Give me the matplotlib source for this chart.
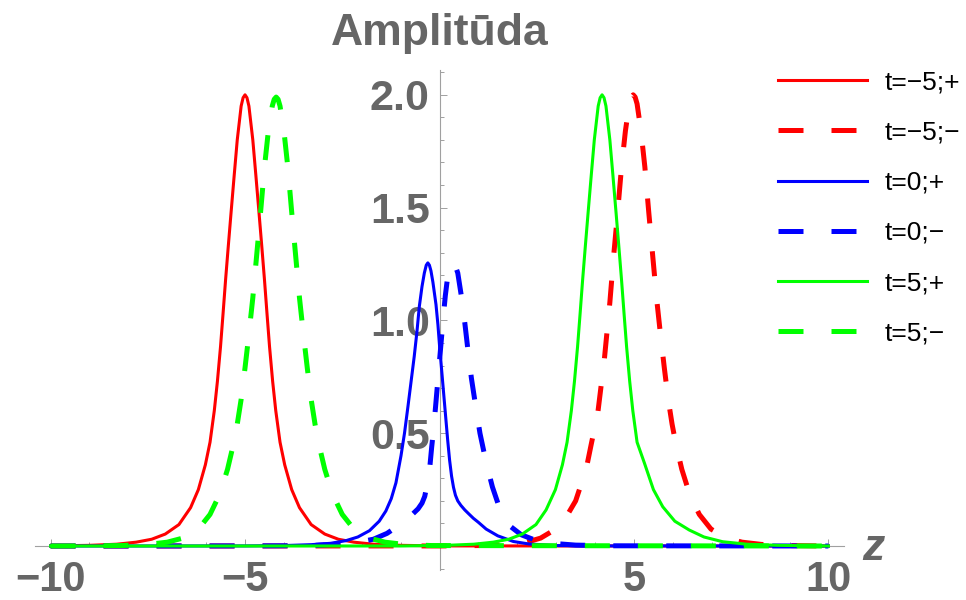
import matplotlib
matplotlib.use('Agg')
import matplotlib.pyplot as plt
from matplotlib.ticker import MultipleLocator

plt.rcParams['font.family'] = ['Liberation Sans', 'DejaVu Sans']

# values
z_red_p = [-10, -9.0, -8.3, -7.8, -7.4, -7.05, -6.7, -6.4, -6.2, -6.02, -5.9, -5.79, -5.71, -5.63,
           -5.565, -5.5, -5.43, -5.36, -5.28, -5.2, -5.1, -5.05, -5.0, -4.95, -4.9, -4.8, -4.72,
           -4.64, -4.57, -4.5, -4.435, -4.37, -4.29, -4.21, -4.1, -3.98, -3.8, -3.6, -3.3, -2.95,
           -2.6, -2.2, -1.7, -1.0, 0, 10]
a_red_p = [0.0005, 0.003, 0.008, 0.017, 0.03, 0.053, 0.095, 0.17, 0.25, 0.36, 0.46, 0.60, 0.73, 0.884,
           1.03, 1.18, 1.33, 1.476, 1.64, 1.80, 1.95, 1.987, 2.0, 1.987, 1.95, 1.80, 1.64,
           1.476, 1.33, 1.18, 1.03, 0.884, 0.73, 0.60, 0.46, 0.36, 0.25, 0.17, 0.095, 0.053,
           0.03, 0.017, 0.008, 0.003, 0.0005, 0]

z_red_m = [-10, 0, 1.0, 1.7, 2.2, 2.6, 2.95, 3.21, 3.5, 3.77, 3.9, 4.07, 4.24, 4.38, 4.48, 4.58,
           4.68, 4.78, 4.88, 4.93, 4.98, 5.03, 5.08, 5.18, 5.28, 5.38, 5.48, 5.58, 5.68, 5.78,
           5.88, 5.98, 6.08, 6.23, 6.43, 6.68, 6.98, 7.38, 7.78, 8.28, 8.98, 10]
a_red_m = [0, 0.0003, 0.002, 0.006, 0.015, 0.035, 0.071, 0.115, 0.2, 0.34, 0.45, 0.59, 0.83, 1.08,
           1.29, 1.48, 1.68, 1.84, 1.96, 1.99, 2.0, 1.99, 1.96, 1.84, 1.68, 1.48, 1.29, 1.10,
           0.94, 0.79, 0.65, 0.54, 0.45, 0.34, 0.23, 0.14, 0.075, 0.035, 0.017, 0.007, 0.002, 0]

z_blue_p = [-10, -5, -4, -3.3, -2.8, -2.4, -2.1, -1.8, -1.55, -1.38, -1.24, -1.12, -0.99, -0.9,
            -0.81, -0.73, -0.65, -0.58, -0.52, -0.45, -0.39, -0.34, -0.3, -0.26, -0.22, -0.17,
            -0.09, -0.04, 0.0, 0.04, 0.08, 0.12, 0.16, 0.21, 0.26, 0.31, 0.36, 0.41, 0.47, 0.55,
            0.65, 0.75, 0.87, 1.0, 1.2, 1.5, 1.9, 2.3, 3.0, 4.0, 10]
a_blue_p = [0, 0.0005, 0.002, 0.006, 0.012, 0.024, 0.04, 0.068, 0.11, 0.155, 0.21, 0.28, 0.40, 0.5,
            0.62, 0.73, 0.84, 0.95, 1.06, 1.15, 1.21, 1.245, 1.255, 1.245, 1.22, 1.17,
            1.07, 0.98, 0.89, 0.81, 0.73, 0.65, 0.57, 0.47, 0.38, 0.31, 0.26, 0.225, 0.2, 0.18,
            0.16, 0.143, 0.123, 0.105, 0.075, 0.045, 0.02, 0.009, 0.002, 0.0005, 0]

z_blue_m = [-10, -5, -4, -3.2, -2.6, -2.1, -1.7, -1.35, -1.1, -0.9, -0.7, -0.55, -0.45, -0.38,
            -0.32, -0.26, -0.2, -0.15, -0.1, -0.05, 0.0, 0.05, 0.1, 0.15, 0.2, 0.26, 0.34, 0.4,
            0.47, 0.56, 0.65, 0.73, 0.82, 0.93, 1.04, 1.2, 1.36, 1.55, 1.8, 2.1, 2.4, 2.9, 3.5,
            4.5, 10]
a_blue_m = [0, 0.0005, 0.001, 0.003, 0.008, 0.017, 0.03, 0.056, 0.085, 0.11, 0.14, 0.165, 0.19, 0.22,
            0.27, 0.33, 0.44, 0.52, 0.62, 0.72, 0.82, 0.92, 1.02, 1.11, 1.18, 1.23, 1.255, 1.245,
            1.21, 1.11, 0.99, 0.87, 0.744, 0.62, 0.5, 0.37, 0.262, 0.165, 0.09, 0.05, 0.03, 0.012, 0.004,
            0.001, 0]

z_green_p = [-10, -1.0, 0.18, 0.88, 1.38, 1.78, 2.13, 2.48, 2.74, 2.98, 3.16, 3.28, 3.39, 3.47, 3.55,
             3.615, 3.68, 3.75, 3.82, 3.90, 3.98, 4.08, 4.13, 4.18, 4.23, 4.28, 4.38, 4.46, 4.54,
             4.61, 4.68, 4.745, 4.81, 4.89, 4.97, 5.08, 5.27, 5.5, 5.74, 6.05, 6.42, 6.8, 7.28,
             7.9, 8.7, 10]
a_green_p = [0, 0.0002, 0.003, 0.008, 0.017, 0.03, 0.053, 0.095, 0.16, 0.25, 0.36, 0.46, 0.60, 0.73, 0.884,
             1.03, 1.18, 1.33, 1.476, 1.64, 1.80, 1.95, 1.987, 2.0, 1.987, 1.95, 1.80, 1.64, 1.476,
             1.33, 1.18, 1.03, 0.884, 0.73, 0.60, 0.46, 0.367, 0.25, 0.174, 0.11, 0.071, 0.04, 0.019,
             0.008, 0.003, 0]

z_green_m = [-10, -9.2, -8.2, -7.5, -7.0, -6.6, -6.2, -5.9, -5.65, -5.45, -5.3, -5.2, -5.1, -5.0,
             -4.9, -4.8, -4.7, -4.6, -4.5, -4.4, -4.3, -4.25, -4.2, -4.15, -4.1, -4.0, -3.9, -3.8,
             -3.7, -3.6, -3.5, -3.4, -3.3, -3.2, -3.1, -2.95, -2.75, -2.5, -2.2, -1.8, -1.4, -0.9,
             -0.2, 10]
a_green_m = [0, 0.0005, 0.002, 0.007, 0.017, 0.035, 0.075, 0.14, 0.23, 0.34, 0.45, 0.54, 0.65, 0.79,
             0.94, 1.10, 1.29, 1.48, 1.68, 1.84, 1.95, 1.98, 1.99, 1.98, 1.95, 1.84, 1.68, 1.48,
             1.29, 1.10, 0.94, 0.79, 0.65, 0.54, 0.45, 0.34, 0.23, 0.14, 0.075, 0.035, 0.017, 0.007,
             0.002, 0]

labels = ['t=\u22125;+', 't=\u22125;\u2212', 't=0;+', 't=0;\u2212', 't=5;+', 't=5;\u2212']
x_ticks = [-10, -5, 5, 10]
x_tick_labels = ['\u221210', '\u22125', '5', '10']
y_ticks = [0.5, 1.0, 1.5, 2.0]
y_tick_labels = ['0.5', '1.0', '1.5', '2.0']

gray = '#666666'
axis_gray = '#a0a0a0'

fig = plt.figure(figsize=(9.66, 6), dpi=100)
ax = fig.add_axes([35 / 966, 1 - 569.7 / 600, 809 / 966, 499.7 / 600])

solid = dict(lw=2.2, ls='-')
dashed = dict(lw=3.6, ls=(0, (5, 5.6)))

ax.plot(z_red_p, a_red_p, color='#ff0000', label=labels[0], **solid)
ax.plot(z_red_m, a_red_m, color='#ff0000', label=labels[1], **dashed)
ax.plot(z_blue_p, a_blue_p, color='#0000ff', label=labels[2], **solid)
ax.plot(z_blue_m, a_blue_m, color='#0000ff', label=labels[3], **dashed)
ax.plot(z_green_p, a_green_p, color='#00ff00', label=labels[4], **solid)
ax.plot(z_green_m, a_green_m, color='#00ff00', label=labels[5], **dashed)

ax.set_xlim(-10.4, 10.4)
ax.set_ylim(-0.105, 2.11)

for s in ['top', 'right']:
    ax.spines[s].set_visible(False)
for s in ['left', 'bottom']:
    ax.spines[s].set_position(('data', 0))
    ax.spines[s].set_color(axis_gray)
    ax.spines[s].set_linewidth(0.8)
    ax.spines[s].set_zorder(1)

ax.set_xticks(x_ticks, x_tick_labels, fontweight='bold', fontsize=30)
ax.set_yticks(y_ticks, y_tick_labels, fontweight='bold', fontsize=31)
ax.xaxis.set_minor_locator(MultipleLocator(1))
ax.yaxis.set_minor_locator(MultipleLocator(0.1))
ax.tick_params(which='both', direction='in', color=axis_gray, width=0.7, labelcolor=gray)
ax.tick_params(which='major', length=5)
ax.tick_params(which='minor', length=3)
ax.tick_params(axis='x', which='major', pad=10)
ax.tick_params(axis='y', which='major', pad=7)

ax.set_title('Amplitūda', fontsize=32, fontweight='bold', color=gray, pad=18)
fig.text(862 / 966, 1 - 560 / 600, 'z', fontsize=32, fontweight='bold', style='italic',
         color=gray, ha='left', va='baseline')

ax.legend(loc='upper left', bbox_to_anchor=(778 / 966, 1 - 70.5 / 600),
          bbox_transform=fig.transFigure, frameon=False, fontsize=19,
          handlelength=3.37, handletextpad=0.68, labelspacing=0.99,
          borderpad=0, borderaxespad=0)

fig.savefig('out.png', dpi=100)
